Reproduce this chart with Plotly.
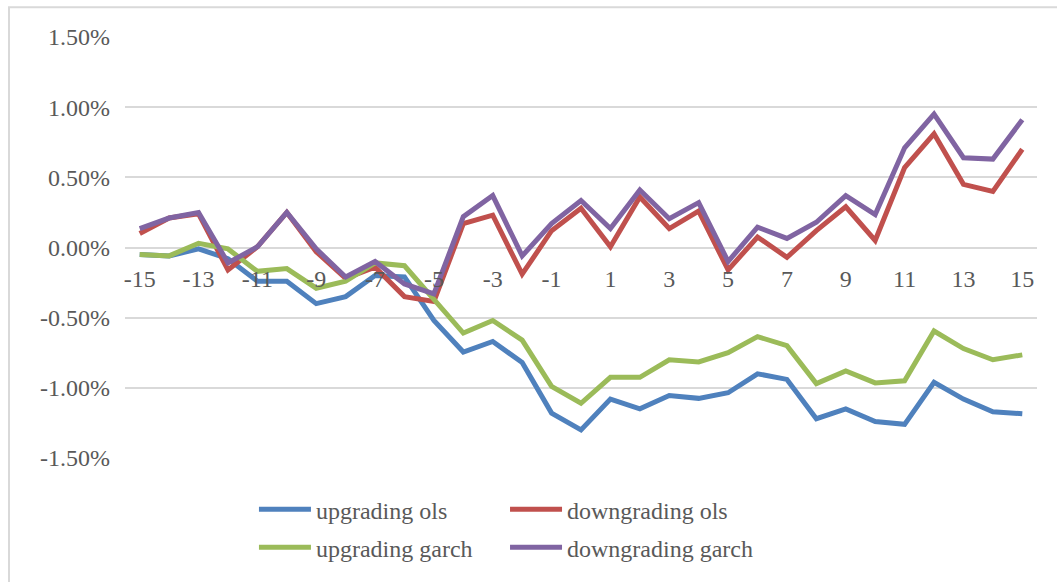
import plotly.graph_objects as go

# Event-window days
days = list(range(-15, 16))

# Cumulative abnormal returns, in percent
upgrading_ols = [-0.05, -0.06, -0.01, -0.08, -0.24, -0.24, -0.40, -0.35, -0.20, -0.21,
                 -0.52, -0.745, -0.67, -0.82, -1.18, -1.30, -1.08, -1.15, -1.055, -1.075,
                 -1.035, -0.90, -0.94, -1.22, -1.15, -1.24, -1.26, -0.96, -1.08, -1.17, -1.185]
downgrading_ols = [0.10, 0.21, 0.24, -0.16, 0.005, 0.25, -0.03, -0.22, -0.14, -0.35,
                   -0.385, 0.17, 0.23, -0.19, 0.12, 0.28, 0.005, 0.36, 0.135, 0.26,
                   -0.16, 0.075, -0.07, 0.12, 0.29, 0.05, 0.57, 0.81, 0.45, 0.40, 0.70]
upgrading_garch = [-0.05, -0.06, 0.03, -0.01, -0.17, -0.15, -0.29, -0.24, -0.11, -0.13,
                   -0.37, -0.61, -0.52, -0.66, -0.99, -1.11, -0.925, -0.925, -0.80, -0.815,
                   -0.75, -0.635, -0.70, -0.97, -0.88, -0.965, -0.95, -0.595, -0.72, -0.80, -0.765]
downgrading_garch = [0.135, 0.21, 0.25, -0.11, 0.005, 0.25, -0.01, -0.21, -0.10, -0.26,
                     -0.33, 0.22, 0.37, -0.06, 0.17, 0.335, 0.135, 0.41, 0.205, 0.32,
                     -0.10, 0.145, 0.065, 0.18, 0.37, 0.235, 0.71, 0.95, 0.64, 0.63, 0.91]

y_ticks = [-1.5, -1.0, -0.5, 0.0, 0.5, 1.0, 1.5]
x_ticks = list(range(-15, 16, 2))

# (name, values, colour, legend slot)
series = [
    ("upgrading ols", upgrading_ols, "#4F81BD", "legend"),
    ("downgrading ols", downgrading_ols, "#C0504D", "legend2"),
    ("upgrading garch", upgrading_garch, "#9BBB59", "legend3"),
    ("downgrading garch", downgrading_garch, "#8064A2", "legend4"),
]

FONT = "Liberation Serif"
TEXT_COLOR = "#595959"
GRID = "#D9D9D9"
FS = 24

fig = go.Figure()
for name, values, color, leg in series:
    fig.add_trace(go.Scatter(
        x=days, y=values, name=name, mode="lines", legend=leg,
        line=dict(color=color, width=5),
    ))

legend_common = dict(
    orientation="h", xanchor="left", yanchor="middle", itemwidth=52,
    font=dict(family=FONT, size=FS, color=TEXT_COLOR),
    bgcolor="rgba(0,0,0,0)",
)

# Legend laid out as a 2x2 grid below the plot
col1, col2 = 0.1414, 0.4167
row1, row2 = (460 - 512) / 423, (460 - 550) / 423

fig.update_layout(
    width=1057, height=582,
    margin=dict(l=125, r=20, t=37, b=122),
    paper_bgcolor="white", plot_bgcolor="white",
    font=dict(family=FONT, size=FS, color=TEXT_COLOR),
    showlegend=True,
    legend=dict(x=col1, y=row1, **legend_common),
    legend2=dict(x=col2, y=row1, **legend_common),
    legend3=dict(x=col1, y=row2, **legend_common),
    legend4=dict(x=col2, y=row2, **legend_common),
    xaxis=dict(
        range=[-15.5, 15.5], tickmode="array", tickvals=x_ticks,
        ticktext=[str(v) for v in x_ticks],
        showgrid=False, zeroline=False, showline=False, ticks="",
        anchor="free", position=0.5, ticklabelstandoff=14,
    ),
    yaxis=dict(
        range=[-1.5, 1.5], tickmode="array", tickvals=y_ticks,
        ticktext=[f"{v:.2f}%" for v in y_ticks],
        showgrid=True, gridcolor=GRID, gridwidth=2,
        zeroline=False, showline=False, ticks="", ticklabelstandoff=14,
        domain=[0, 1],
    ),
)

# Light chart-area border on the left and top edges
fig.add_shape(type="rect", xref="paper", yref="paper",
              x0=(9 - 125) / 912, x1=1.06, y0=-0.35, y1=(460 - 7) / 423,
              line=dict(color=GRID, width=2), layer="below")

fig.write_html("out.html")
